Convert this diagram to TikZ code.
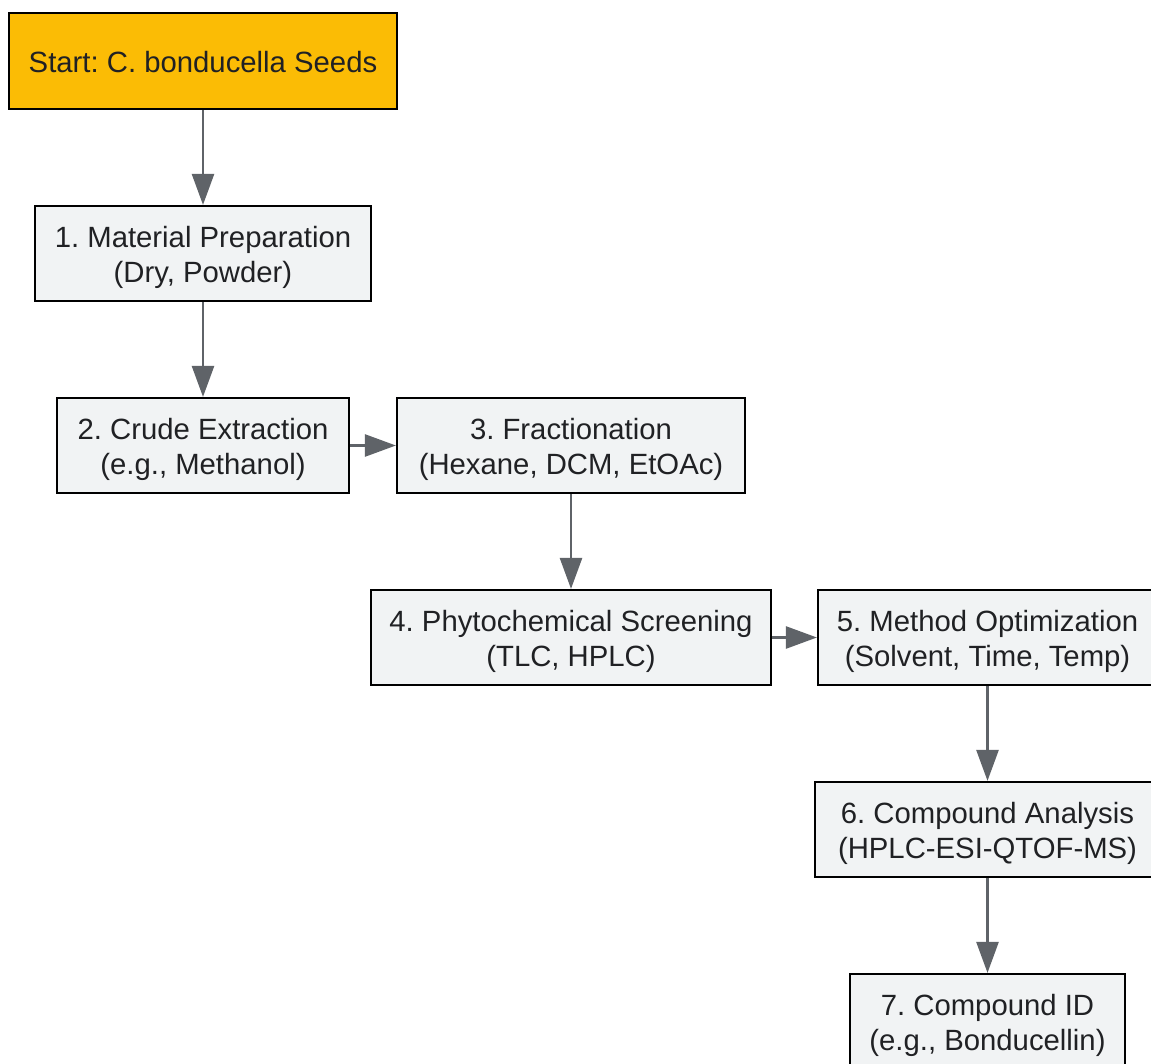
\documentclass[tikz,border=0pt]{standalone}
\usepackage{fontspec}
\setmainfont{Liberation Sans}
\usetikzlibrary{arrows.meta}
\definecolor{startfill}{HTML}{FBBC05}
\definecolor{boxfill}{HTML}{F1F3F4}
\definecolor{arrowgray}{HTML}{5F6368}
\definecolor{textdark}{HTML}{202124}
\frenchspacing
\begin{document}
\begin{tikzpicture}[x=1pt,y=-1pt,
  basebox/.style={draw=black,line width=2.2pt,fill=boxfill,align=center,inner sep=0pt,
    font=\fontsize{29.3}{35}\selectfont,text=textdark},
  box/.style={basebox,execute at begin node={\rule{0pt}{65pt}}},
  startbox/.style={basebox,fill=startfill,execute at begin node={\rule{0pt}{23pt}}},
  flow/.style={draw=arrowgray,line width=2.6pt,-{Triangle[length=31pt,width=22pt]}}]
\useasboundingbox (0,0) rectangle (1151,1064);
\node[startbox,minimum width=388pt,minimum height=96pt] (s) at (203,61) {Start: C. bonducella Seeds};
\node[box,minimum width=336pt,minimum height=95pt] (n1) at (203,253.5) {1. Material Preparation\\(Dry, Powder)};
\node[box,minimum width=292pt,minimum height=95pt] (n2) at (203,445.5) {2. Crude Extraction\\(e.g., Methanol)};
\node[box,minimum width=348pt,minimum height=95pt] (n3) at (571,445.5) {3. Fractionation\\(Hexane, DCM, EtOAc)};
\node[box,minimum width=400pt,minimum height=95pt] (n4) at (571,637.5) {4. Phytochemical Screening\\(TLC, HPLC)};
\node[box,minimum width=339pt,minimum height=95pt] (n5) at (987.5,637.5) {5. Method Optimization\\(Solvent, Time, Temp)};
\node[box,minimum width=345pt,minimum height=95pt] (n6) at (987.5,829.5) {6. Compound Analysis\\(HPLC-ESI-QTOF-MS)};
\node[box,minimum width=275pt,minimum height=95pt] (n7) at (987.5,1021.5) {7. Compound ID\\(e.g., Bonducellin)};
\draw[flow] (s) -- (n1);
\draw[flow] (n1) -- (n2);
\draw[flow] (n2) -- (n3);
\draw[flow] (n3) -- (n4);
\draw[flow] (n4) -- (n5);
\draw[flow] (n5) -- (n6);
\draw[flow] (n6) -- (n7);
\end{tikzpicture}
\end{document}
